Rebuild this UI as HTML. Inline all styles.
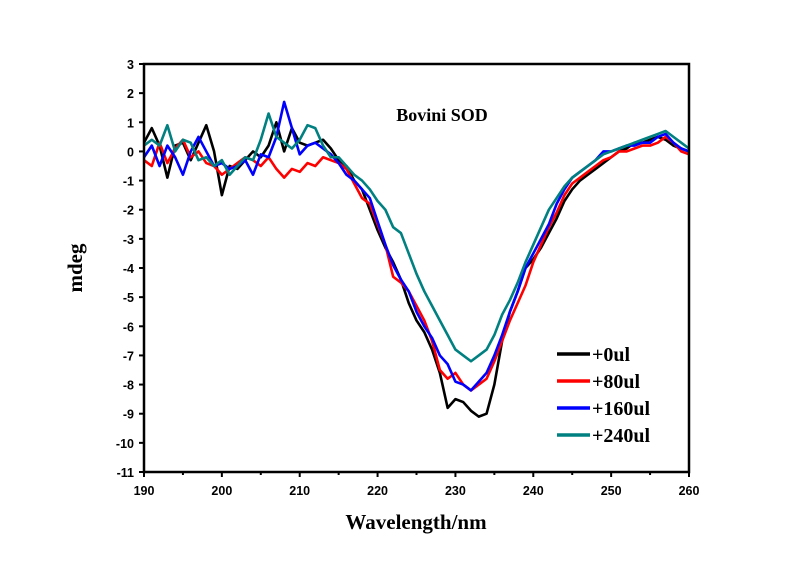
<!DOCTYPE html>
<html><head><meta charset="utf-8"><style>
body{margin:0;background:#fff;}
svg{display:block;}
.t{font-family:"Liberation Sans",Arial,sans-serif;font-weight:bold;font-size:12.5px;}
.s{font-family:"Liberation Serif",serif;font-weight:bold;}
</style></head><body>
<svg id="c" width="800" height="564"></svg>
<script>
const wavelengths=[];for(let w=190;w<=260;w++)wavelengths.push(w);
const s0=[0.3,0.8,0.2,-0.9,0.2,0.3,-0.3,0.3,0.9,0,-1.5,-0.5,-0.6,-0.3,0,-0.2,0.2,1,0,0.8,0.3,0.2,0.3,0.4,0.1,-0.3,-0.5,-1,-1.3,-2,-2.7,-3.3,-3.8,-4.4,-5.2,-5.8,-6.2,-6.8,-7.6,-8.8,-8.5,-8.6,-8.9,-9.1,-9,-8,-6.5,-5.5,-4.8,-4,-3.7,-3.3,-2.8,-2.3,-1.7,-1.3,-1,-0.8,-0.6,-0.4,-0.2,0,0.1,0.3,0.3,0.4,0.5,0.4,0.2,0.1,0];
const s80=[-0.3,-0.5,0.3,-0.4,0.1,0.4,-0.2,0,-0.4,-0.5,-0.8,-0.6,-0.4,-0.2,-0.3,-0.5,-0.2,-0.6,-0.9,-0.6,-0.7,-0.4,-0.5,-0.2,-0.3,-0.4,-0.6,-1.1,-1.6,-1.8,-2.5,-3.2,-4.3,-4.5,-4.8,-5.3,-5.8,-6.5,-7.5,-7.8,-7.6,-8,-8.2,-8,-7.8,-7.2,-6.5,-5.8,-5.2,-4.6,-3.8,-3.2,-2.6,-2.1,-1.5,-1.1,-0.9,-0.7,-0.5,-0.3,-0.2,0,0,0.1,0.2,0.2,0.3,0.5,0.3,0,-0.1];
const s160=[-0.2,0.2,-0.5,0.2,-0.2,-0.8,0,0.5,0,-0.5,-0.4,-0.6,-0.5,-0.3,-0.8,-0.1,-0.2,0.5,1.7,0.8,-0.1,0.2,0.3,0.1,-0.1,-0.4,-0.8,-1,-1.3,-1.6,-2.4,-3.2,-3.9,-4.4,-4.8,-5.5,-6,-6.4,-7,-7.3,-7.9,-8,-8.2,-7.9,-7.6,-7,-6.3,-5.5,-4.8,-4,-3.5,-3,-2.5,-1.8,-1.3,-0.9,-0.7,-0.5,-0.3,0,0,0.1,0.2,0.2,0.3,0.3,0.5,0.6,0.3,0.1,0];
const s240=[0.2,0.4,0.2,0.9,0,0.4,0.3,-0.3,-0.2,-0.5,-0.3,-0.8,-0.5,-0.2,-0.3,0.4,1.3,0.5,0.3,0.1,0.4,0.9,0.8,0.2,-0.2,-0.2,-0.5,-0.8,-1,-1.3,-1.7,-2,-2.6,-2.8,-3.5,-4.2,-4.8,-5.3,-5.8,-6.3,-6.8,-7,-7.2,-7,-6.8,-6.3,-5.6,-5.1,-4.5,-3.8,-3.2,-2.6,-2,-1.6,-1.2,-0.9,-0.7,-0.5,-0.3,-0.1,0,0.1,0.2,0.3,0.4,0.5,0.6,0.7,0.5,0.3,0.1];
const seriesNames=["+0ul","+80ul","+160ul","+240ul"];
const seriesColors=["#000000","#ff0000","#0000ff","#008080"];
const seriesData=[s0,s80,s160,s240];
const xTicks=[190,200,210,220,230,240,250,260];
const yTicks=[3,2,1,0,-1,-2,-3,-4,-5,-6,-7,-8,-9,-10,-11];
const L=144,R=689,T=64,B=472;
const xs=v=>L+(v-190)/70*(R-L);
const ys=v=>T+(3-v)/14*(B-T);
const svg=document.getElementById('c');const NS='http://www.w3.org/2000/svg';
function mk(tag,attrs,parent){const e=document.createElementNS(NS,tag);for(const k in attrs)e.setAttribute(k,attrs[k]);(parent||svg).appendChild(e);return e;}
seriesData.forEach((d,i)=>{
 const p=mk('polyline',{points:d.map((v,j)=>xs(wavelengths[j])+','+ys(v)).join(' '),fill:'none',stroke:seriesColors[i],'stroke-width':2.6,'stroke-linejoin':'round'});
 
 
});
const fr=mk('rect',{x:L,y:T,width:R-L,height:B-T,fill:'none',stroke:'#000','stroke-width':2.5});


for(let v=190;v<=260;v+=5){mk('line',{x1:xs(v),x2:xs(v),y1:B,y2:B+(v%10?3:5),stroke:'#000','stroke-width':2});}
xTicks.forEach(v=>{const t=mk('text',{x:xs(v),y:B+23,'text-anchor':'middle',class:'t'});t.textContent=v;
 
 });
yTicks.forEach(v=>{mk('line',{x1:L-5,x2:L,y1:ys(v),y2:ys(v),stroke:'#000','stroke-width':2});
 const t=mk('text',{x:L-10,y:ys(v)+5,'text-anchor':'end',class:'t'});t.textContent=v;
 
 });
seriesNames.forEach((n,i)=>{const y=354+i*27;
 mk('line',{x1:557,x2:590,y1:y,y2:y,stroke:seriesColors[i],'stroke-width':3.5});
 const t=mk('text',{x:592,y:y+7,class:'s','font-size':20});t.textContent=n;
 
 });
const ti=mk('text',{x:442,y:121,'text-anchor':'middle',class:'s','font-size':18});ti.textContent='Bovini SOD';


const xl=mk('text',{x:416,y:529,'text-anchor':'middle',class:'s','font-size':21});xl.textContent='Wavelength/nm';


const yl=mk('text',{x:0,y:0,'text-anchor':'middle',class:'s','font-size':21,transform:'translate(82,268) rotate(-90)'});yl.textContent='mdeg';


</script>
</body></html>
